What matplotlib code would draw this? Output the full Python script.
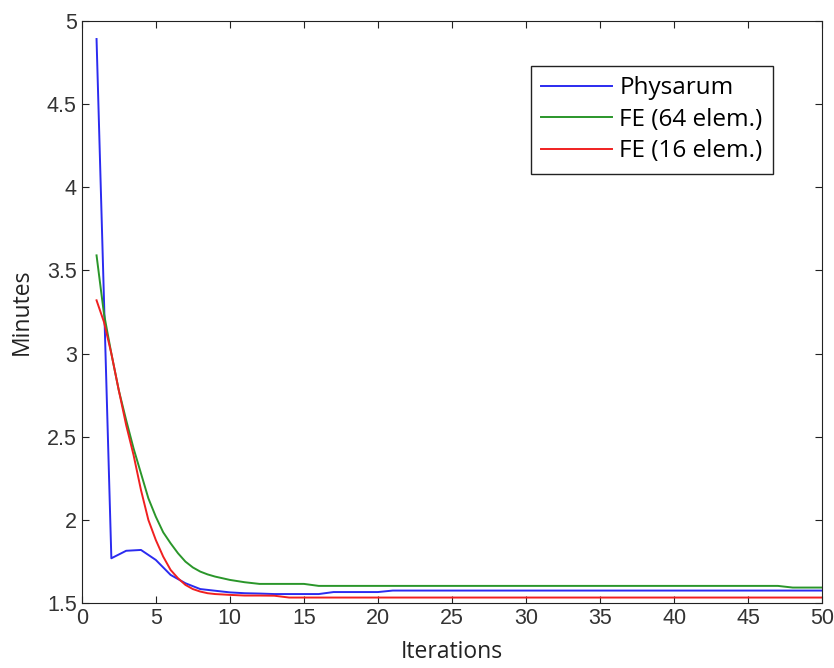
import matplotlib
matplotlib.use("Agg")
import matplotlib.pyplot as plt

# Physarum sampled once per iteration
iterations = list(range(1, 51))
physarum = [4.89, 1.77, 1.815, 1.82, 1.76, 1.67, 1.62, 1.585, 1.575, 1.565,
            1.56, 1.558, 1.555, 1.555, 1.555, 1.555,
            1.567, 1.567, 1.567, 1.567] + [1.576] * 30

# FE curves drawn smooth -> read at half steps early on
fe_x = [1, 1.5, 2, 2.5, 3, 3.5, 4, 4.5, 5, 5.5, 6, 6.5, 7, 7.5, 8, 8.5, 9,
        10, 11] + list(range(12, 51))
fe64 = [3.59, 3.24, 3.00, 2.78, 2.60, 2.43, 2.28, 2.13, 2.02, 1.926, 1.86,
        1.80, 1.75, 1.715, 1.69, 1.673, 1.66, 1.64, 1.626] \
    + [1.616] * 4 + [1.604] * 32 + [1.594] * 3
fe16 = [3.32, 3.19, 3.00, 2.78, 2.57, 2.39, 2.18, 2.00, 1.88, 1.78, 1.70,
        1.65, 1.61, 1.585, 1.57, 1.56, 1.555, 1.550, 1.546] \
    + [1.546, 1.545] + [1.534] * 37

plt.rcParams['font.family'] = ['Open Sans', 'DejaVu Sans']

fig = plt.figure(figsize=(8.34, 6.68), dpi=100)
ax = fig.add_axes([0.098, 0.097, 0.888, 0.872])

ax.plot(iterations, physarum, color='#2b2bf0', lw=1.4, label='Physarum')
ax.plot(fe_x, fe64, color='#2a962a', lw=1.4, label='FE (64 elem.)')
ax.plot(fe_x, fe16, color='#f02020', lw=1.4, label='FE (16 elem.)')

ax.set_xlim(0, 50)
ax.set_ylim(1.5, 5)
ax.set_xticks(range(0, 51, 5))
ax.set_yticks([1.5, 2, 2.5, 3, 3.5, 4, 4.5, 5])
ax.set_yticklabels(['1.5', '2', '2.5', '3', '3.5', '4', '4.5', '5'])
ax.tick_params(direction='in', top=True, right=True, length=5,
               colors='#222222', labelcolor='#333333')
for lab in ax.get_xticklabels() + ax.get_yticklabels():
    lab.set_family(['Liberation Sans', 'DejaVu Sans'])
    lab.set_fontsize(15.5)
for sp in ax.spines.values():
    sp.set_color('#222222')

ax.set_xlabel('Iterations', fontsize=16.5, color='#222222')
ax.set_ylabel('Minutes', fontsize=16.5, color='#222222')
ax.xaxis.set_label_coords(0.5, -0.064)
ax.yaxis.set_label_coords(-0.065, 0.5)

leg = ax.legend(loc='upper right', bbox_to_anchor=(0.934, 0.923), fontsize=17.5,
                fancybox=False, framealpha=1, edgecolor='#222222',
                handlelength=2.9, handletextpad=0.3, borderpad=0.45,
                labelspacing=0.3, borderaxespad=0)
leg.get_frame().set_linewidth(1.0)

fig.savefig('out.png', dpi=100)
